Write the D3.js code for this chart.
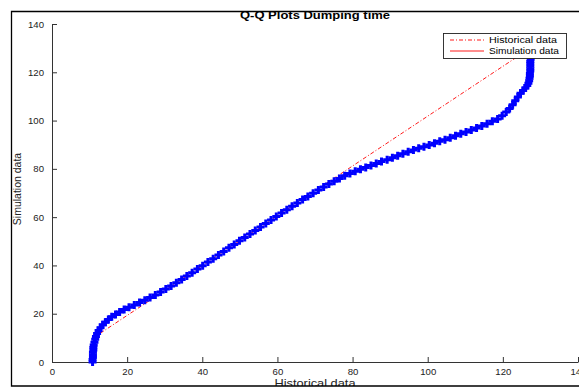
<!DOCTYPE html>
<html><head><meta charset="utf-8">
<script src="https://cdn.jsdelivr.net/npm/d3@7/dist/d3.min.js"></script>
<style>body{margin:0;background:#fff}svg{display:block}</style>
</head><body>
<script>
const title = "Q-Q Plots Dumping time";
const xLabel = "Historical data";
const yLabel = "Simulation data";
const legendLabels = ["Historical data", "Simulation data"];
const xTicks = [0, 20, 40, 60, 80, 100, 120, 140];
const yTicks = [0, 20, 40, 60, 80, 100, 120, 140];

// Q-Q points: historical quantiles (x) vs simulation quantiles (y)
const histQ = [10.8,10.8,10.9,10.9,10.9,11.0,11.0,11.1,
  11.3,11.5,11.7,12.0,12.4,12.9,13.5,14.2,15.0,15.9,16.9,18.0,19.2,20.5,21.9,23.3,
  24.7,26.1,27.5,28.9,30.3,31.7,33.1,34.5,35.9,37.3,38.7,
  40.1,41.5,42.9,44.3,45.7,47.1,48.5,49.9,51.3,52.7,54.1,55.5,56.9,58.3,59.7,61.1,62.5,63.9,
  65.3,66.7,68.1,69.5,70.9,72.3,73.7,75.1,76.5,77.9,79.3,80.7,82.1,83.5,84.9,86.3,87.7,
  89.2,90.6,92.0,93.4,94.8,96.2,97.6,99.0,100.4,101.8,103.2,104.6,106.0,107.4,108.8,110.2,
  111.6,113.0,114.4,115.8,117.2,118.6,119.8,120.9,121.8,122.6,123.3,124.0,124.7,125.4,
  126.0,126.5,126.8,127.0,127.1,127.2,127.2,127.3,127.3,127.3,127.3,127.3,127.4];
const simQ = [0,1,2,3,4,5,6,7,
  8.2,9.4,10.6,11.8,13.0,14.2,15.4,16.5,17.6,18.7,19.7,20.7,21.7,22.7,23.6,24.6,
  25.6,26.7,27.8,29.0,30.2,31.5,32.8,34.2,35.6,37.0,38.5,
  39.9,41.4,42.8,44.3,45.8,47.3,48.7,50.2,51.6,53.0,54.5,55.9,57.4,58.8,60.3,61.7,63.1,64.5,
  65.9,67.3,68.6,69.9,71.2,72.5,73.7,74.9,76.0,77.1,78.1,79.0,79.8,80.6,81.4,82.2,83.0,
  83.8,84.6,85.4,86.3,87.1,87.8,88.5,89.2,89.9,90.6,91.4,92.1,92.9,93.7,94.5,95.3,
  96.1,96.9,97.8,98.7,99.7,100.7,102.0,103.5,105.0,106.6,108.2,109.8,111.3,112.5,
  113.5,114.5,115.5,116.5,117.5,118.5,119.5,120.5,121.5,122.5,123.5,124.5,125.5];

// reference (dash-dot) line end points
const refX = [10.9, 127.4];
const refY = [9.9, 130.1];

const W = 579, H = 390;
const FONT = "'Liberation Sans', Arial, Helvetica, sans-serif";
const svg = d3.select("body").append("svg").attr("width", W).attr("height", H);

svg.append("defs").append("clipPath").attr("id", "fig")
  .append("rect").attr("x", 11).attr("y", 11).attr("width", 570).attr("height", 375);

const g = svg.append("g").attr("clip-path", "url(#fig)");

const x = d3.scaleLinear().domain([0, 140]).range([52, 578]);
const y = d3.scaleLinear().domain([0, 140]).range([362, 24]);
const axisColor = "#333";

// axes
const xAxis = g.append("g").attr("transform", `translate(0,${y(0)})`)
  .call(d3.axisBottom(x).tickValues(xTicks).tickSizeInner(-5).tickSizeOuter(0).tickPadding(6));
const yAxis = g.append("g").attr("transform", `translate(${x(0)},0)`)
  .call(d3.axisLeft(y).tickValues(yTicks).tickSizeInner(-5).tickSizeOuter(0).tickPadding(8));
[xAxis, yAxis].forEach(a => {
  a.select(".domain").attr("stroke", axisColor).attr("stroke-width", 1);
  a.selectAll(".tick line").attr("stroke", axisColor);
  a.selectAll(".tick text").attr("fill", "#222").attr("font-family", FONT).attr("font-size", 9.6);
});

// reference line
g.append("line")
  .attr("x1", x(refX[0])).attr("y1", y(refY[0]))
  .attr("x2", x(refX[1])).attr("y2", y(refY[1]))
  .attr("stroke", "#ff0000").attr("stroke-width", 0.9)
  .attr("stroke-dasharray", "4,2,1,2");

// plus markers
const s = 4;
g.append("g").selectAll("path").data(histQ.map((d, i) => [d, simQ[i]])).join("path")
  .attr("d", d => {
    const px = x(d[0]), py = y(d[1]);
    return `M${px - s},${py}H${px + s}M${px},${py - s}V${py + s}`;
  })
  .attr("stroke", "#0000ff").attr("stroke-width", 3).attr("fill", "none");

// title
g.append("text").attr("x", 315).attr("y", 19).attr("text-anchor", "middle")
  .attr("font-family", FONT).attr("font-weight", "bold").attr("font-size", 10)
  .attr("textLength", 150).attr("lengthAdjust", "spacingAndGlyphs").text(title);

// axis labels
g.append("text").attr("x", 315).attr("y", 387).attr("text-anchor", "middle")
  .attr("font-family", FONT).attr("font-size", 10.5).attr("fill", "#222")
  .attr("textLength", 81).attr("lengthAdjust", "spacingAndGlyphs").text(xLabel);
g.append("text").attr("transform", "translate(21,189) rotate(-90)").attr("text-anchor", "middle")
  .attr("font-family", FONT).attr("font-size", 10.5).attr("fill", "#222")
  .text(yLabel);

// legend
const lg = g.append("g");
lg.append("rect").attr("x", 443.5).attr("y", 33.5).attr("width", 123).attr("height", 25)
  .attr("fill", "#fff").attr("stroke", "#222").attr("stroke-width", 0.9);
const dashes = ["4,2,1,2", null];
legendLabels.forEach((lab, i) => {
  const ly = 40 + i * 11;
  lg.append("line").attr("x1", 450).attr("x2", 484).attr("y1", ly).attr("y2", ly)
    .attr("stroke", "#ff0000").attr("stroke-width", 0.9)
    .attr("stroke-dasharray", dashes[i]);
  lg.append("text").attr("x", 489).attr("y", ly + 3.4)
    .attr("font-family", FONT).attr("font-size", 9.6).attr("fill", "#000")
    .attr("textLength", i === 0 ? 68 : 70).attr("lengthAdjust", "spacingAndGlyphs").text(lab);
});

// figure frame
svg.append("path").attr("d", "M581,11.5H11.5V386H581")
  .attr("fill", "none").attr("stroke", "#000").attr("stroke-width", 1.3);
</script>
</body></html>
